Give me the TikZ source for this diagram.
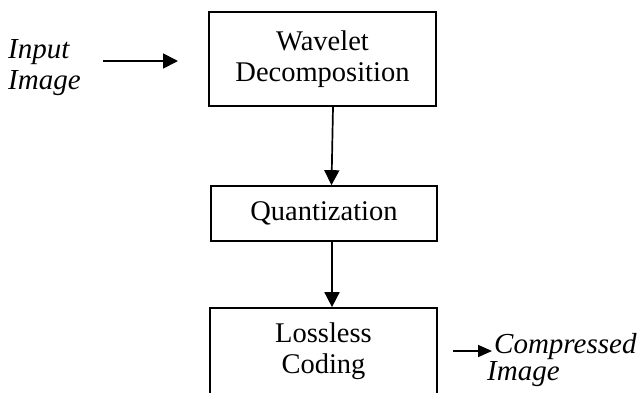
\documentclass[tikz,border=0pt]{standalone}
\usepackage{fontspec}
\setmainfont{Liberation Serif}
\usetikzlibrary{arrows.meta}
\tikzset{
  itxt/.style={font=\fontsize{29}{31}\selectfont\itshape, inner sep=0pt, anchor=base west},
  blockbox/.style={draw, line width=1.7pt, rectangle, inner sep=0pt, align=center,
    font=\fontsize{28.5}{31}\selectfont},
  arr/.style={line width=1.7pt, -{Triangle[length=15pt,width=15pt]}}
}
\begin{document}
\begin{tikzpicture}[x=1pt,y=-1pt]
\useasboundingbox (0,0) rectangle (640,392);
\clip (0,0) rectangle (640,392);
% blocks
\node[blockbox, minimum width=227pt, minimum height=94pt] (wav) at (322.5,59) {Wavelet\\Decomposition};
\node[blockbox, minimum width=226pt, minimum height=55pt] (q) at (324,213.5) {Quantization};
\node[blockbox, minimum width=227pt, minimum height=87pt] (ll) at (323.5,351.5) {Lossless\\Coding};
% input text
\node[itxt] (in1) at (8,58) {Input};
\node[itxt] (in2) at (8,89) {Image};
\coordinate (ia) at (103,61);
\coordinate (ib) at (178,61);
\draw[arr] (ia) -- (ib);
% vertical arrows
\draw[arr] ([xshift=10.5pt]wav.south) -- ([xshift=7.5pt]q.north);
\draw[arr] ([xshift=8pt]q.south) -- ([xshift=8.5pt]ll.north);
% output text
\node[itxt] (cp1) at (494,353) {Compressed};
\node[itxt] (cp2) at (487,380) {Image};
\coordinate (ca) at (453,351);
\draw[line width=1.7pt, -{Triangle[length=14pt,width=12pt]}, shorten >=2pt] (ca) -- (ca -| cp1.west);
\end{tikzpicture}
\end{document}
